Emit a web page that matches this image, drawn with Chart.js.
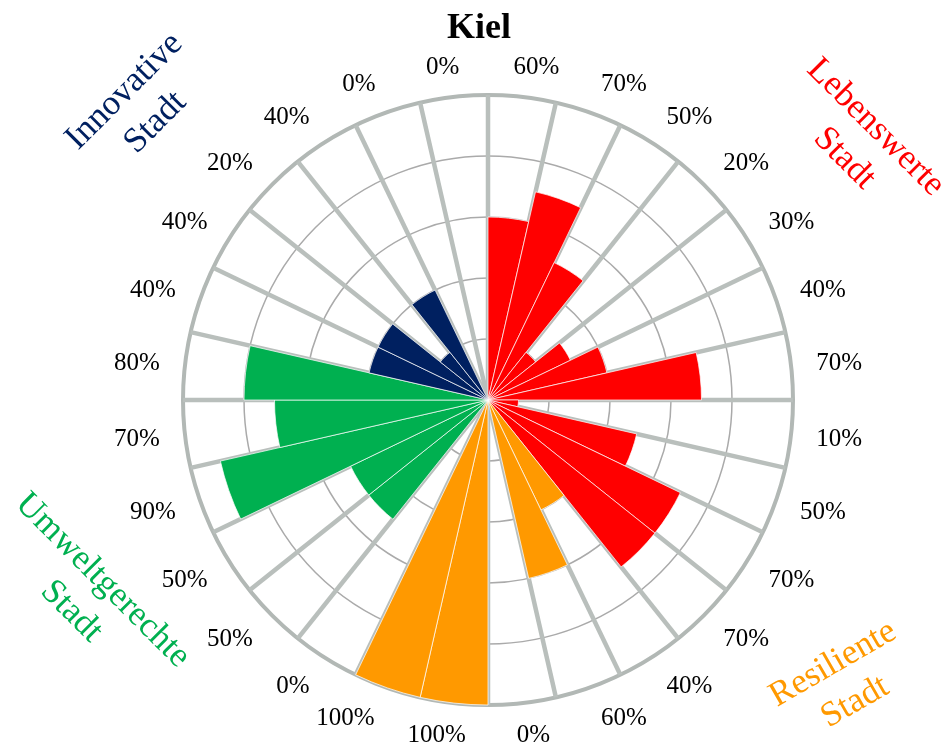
<!DOCTYPE html>
<html><head><meta charset="utf-8">
<script src="https://cdn.jsdelivr.net/npm/chart.js@4/dist/chart.umd.min.js"></script>
<style>html,body{margin:0;padding:0;background:#fff;}#wrap{width:948px;height:749px;}</style>
</head><body><div id="wrap"><canvas id="c" width="948" height="749"></canvas></div>
<script>
// ---- data ----
const categories = ['60%','70%','50%','20%','30%','40%','70%','10%','50%','70%','70%','40%','60%','0%','100%','100%','0%','50%','50%','90%','70%','80%','40%','40%','20%','40%','0%','0%'];
const values = [60,70,50,20,30,40,70,10,50,70,70,40,60,0,100,100,0,50,50,90,70,80,40,40,20,40,0,0];
const groupNames = [['Lebenswerte','Stadt'],['Resiliente','Stadt'],['Umweltgerechte','Stadt'],['Innovative','Stadt']];
const groupSizes = [11,5,6,6];
const groupColors = ['#ff0000','#ff9900','#00b050','#002060'];
const tickMax = 100, tickStep = 20;
const titleText = 'Kiel';

// ---- styling ----
const FONT = '"Liberation Serif", "Times New Roman", serif';
const groupLabelLayout = [
  {dx: 372, dy: -257, rot: 45},
  {dx: 356, dy: 283, rot: -30},
  {dx: -401, dy: 196, rot: 45},
  {dx: -348, dy: -293, rot: -45}
];

const bg = [];
groupSizes.forEach((n, g) => { for (let k = 0; k < n; k++) bg.push(groupColors[g]); });

const labelPlugin = {
  id: 'labelPlugin',
  afterDatasetsDraw(chart) {
    const s = chart.scales.r, ctx = chart.ctx;
    const n = chart.data.labels.length;
    ctx.save();
    ctx.font = '25px ' + FONT;
    ctx.fillStyle = '#000';
    ctx.textAlign = 'center';
    ctx.textBaseline = 'middle';
    chart.data.labels.forEach((lab, i) => {
      const p = s.getPointPosition(i, s.drawingArea + 31, Math.PI / n);
      const sn = Math.cos(p.angle);
      const w = ctx.measureText(lab).width;
      const g = Math.min(1, 3.5 * Math.abs(sn)) * (1.25 - 0.5 * Math.abs(sn));
      ctx.fillText(lab, p.x + Math.sign(sn) * g * w / 2, p.y + 1.5);
    });
    // group labels
    ctx.font = '35px ' + FONT;
    groupNames.forEach((lines, g) => {
      const st = groupLabelLayout[g];
      ctx.save();
      ctx.translate(s.xCenter + st.dx, s.yCenter + st.dy);
      ctx.rotate(st.rot * Math.PI / 180);
      ctx.fillStyle = groupColors[g];
      lines.forEach((t, k) => ctx.fillText(t, 0, (k - (lines.length - 1) / 2) * 44));
      ctx.restore();
    });
    // title
    ctx.font = 'bold 36px ' + FONT;
    ctx.fillStyle = '#000';
    ctx.textBaseline = 'alphabetic';
    ctx.fillText(titleText, s.xCenter - 9, 38);
    ctx.restore();
  }
};

new Chart(document.getElementById('c'), {
  type: 'polarArea',
  data: {
    labels: categories,
    datasets: [{
      data: values,
      backgroundColor: bg,
      borderColor: 'rgba(255,255,255,0.7)',
      borderWidth: 1
    }]
  },
  options: {
    responsive: false,
    animation: false,
    layout: {padding: {left: 182, right: 154, top: 95, bottom: 43}},
    plugins: {legend: {display: false}, tooltip: {enabled: false}, title: {display: false}},
    scales: {
      r: {
        min: 0, max: tickMax, startAngle: 0,
        ticks: {display: false, stepSize: tickStep},
        grid: {
          circular: true,
          color: c => (c.tick && c.tick.value === tickMax) ? '#b2b8b5' : '#aaaaaa',
          lineWidth: c => (c.tick && c.tick.value === tickMax) ? 4 : 1.5
        },
        angleLines: {display: true, color: '#b9bfbc', lineWidth: 4.5},
        pointLabels: {display: false}
      }
    }
  },
  plugins: [labelPlugin]
});
</script>
</body></html>
